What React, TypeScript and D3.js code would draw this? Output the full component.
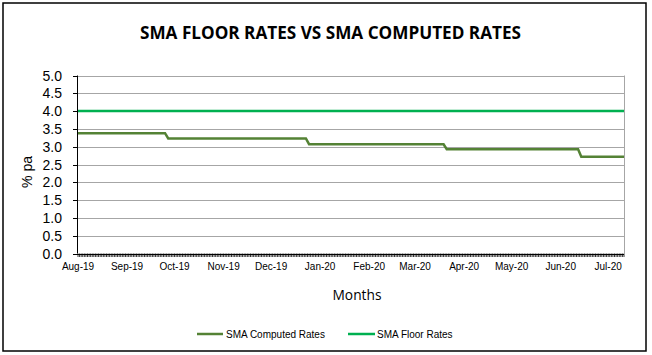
import React from "react";
import * as d3 from "d3";

const W = 652;
const H = 355;

const computedDates = [
  "2019-08-01", "2019-09-25", "2019-09-27", "2019-12-23", "2019-12-25",
  "2020-03-19", "2020-03-21", "2020-06-12", "2020-06-14", "2020-07-11",
];
const computedValues = [3.38, 3.38, 3.23, 3.23, 3.07, 3.07, 2.93, 2.93, 2.72, 2.72];
const floorDates = ["2019-08-01", "2020-07-11"];
const floorValues = [4.0, 4.0];
const yTicks = [0, 0.5, 1, 1.5, 2, 2.5, 3, 3.5, 4, 4.5, 5];
const monthLabels = [
  "Aug-19", "Sep-19", "Oct-19", "Nov-19", "Dec-19", "Jan-20",
  "Feb-20", "Mar-20", "Apr-20", "May-20", "Jun-20", "Jul-20",
];
const seriesNames = ["SMA Computed Rates", "SMA Floor Rates"];
const seriesColors = ["#548235", "#00B050"];

const parse = d3.timeParse("%Y-%m-%d");
const parseMonth = d3.timeParse("%b-%y");

export default function App() {
  const left = 78, right = 624, top = 75.5, bottom = 253.5;
  const x = d3.scaleTime()
    .domain([parse("2019-08-01")!, parse("2020-07-11")!])
    .range([left, right]);
  const y = d3.scaleLinear().domain([0, 5]).range([bottom, top]);

  const line = d3.line<[Date, number]>()
    .x((d) => x(d[0]))
    .y((d) => y(d[1]));

  const compData: [Date, number][] = computedDates.map((d, i) => [parse(d)!, computedValues[i]]);
  const floorData: [Date, number][] = floorDates.map((d, i) => [parse(d)!, floorValues[i]]);

  const days = d3.timeDay.range(x.domain()[0], d3.timeDay.offset(x.domain()[1], 1));

  const arial = "'Liberation Sans', Arial, sans-serif";
  const calibri = "'Open Sans', 'Liberation Sans', sans-serif";

  return (
    <svg width={W} height={H} style={{ position: "absolute", left: 0, top: 0 }}>
      <rect x={0} y={0} width={W} height={H} fill="#fff" />
      <rect x={3} y={3} width={643} height={348} fill="#fff" stroke="#000" strokeWidth={1.5} />
      <text x={330.5} y={39} textAnchor="middle" fontFamily={calibri} fontWeight="bold" fontSize={18}
        textLength={381} lengthAdjust="spacingAndGlyphs" fill="#000">
        SMA FLOOR RATES VS SMA COMPUTED RATES
      </text>
      {/* gridlines */}
      {yTicks.filter((t) => t > 0).map((t) => (
        <line key={"g" + t} x1={left} x2={right} y1={Math.round(y(t)) + 0.5} y2={Math.round(y(t)) + 0.5}
          stroke="#A6A6A6" strokeWidth={1} />
      ))}
      <line x1={right + 0.5} x2={right + 0.5} y1={top} y2={bottom} stroke="#A6A6A6" strokeWidth={1} />
      {/* y axis */}
      <line x1={left - 0.5} x2={left - 0.5} y1={top} y2={bottom} stroke="#000" strokeWidth={1} />
      {yTicks.map((t) => (
        <g key={"y" + t}>
          <line x1={left - 5} x2={left} y1={Math.round(y(t)) + 0.5} y2={Math.round(y(t)) + 0.5} stroke="#000" />
          <text x={62} y={y(t) + 5} textAnchor="end" fontFamily={arial} fontSize={14} fill="#000">
            {t.toFixed(1)}
          </text>
        </g>
      ))}
      {/* x axis */}
      <line x1={left - 5} x2={right} y1={Math.round(bottom) + 0.5} y2={Math.round(bottom) + 0.5} stroke="#000" />
      {days.map((d, i) => (
        <line key={"t" + i} x1={x(d)} x2={x(d)} y1={bottom} y2={bottom + 3.5} stroke="#000" strokeWidth={0.8} />
      ))}
      {monthLabels.map((m) => (
        <text key={m} x={x(parseMonth(m)!)} y={270} textAnchor="middle" fontFamily={arial} fontSize={10} fill="#000">
          {m}
        </text>
      ))}
      <text x={357} y={300} textAnchor="middle" fontFamily={calibri} fontSize={14} fill="#000"
        textLength={49} lengthAdjust="spacingAndGlyphs">Months</text>
      <text transform={`translate(32,172) rotate(-90)`} textAnchor="middle" fontFamily={arial} fontSize={14} fill="#000">
        % pa
      </text>
      {/* series */}
      <path d={line(floorData)!} fill="none" stroke={seriesColors[1]} strokeWidth={2.5} />
      <path d={line(compData)!} fill="none" stroke={seriesColors[0]} strokeWidth={2.5} />
      {/* legend */}
      <line x1={197} x2={223} y1={334} y2={334} stroke={seriesColors[0]} strokeWidth={2.5} />
      <text x={226} y={337.5} fontFamily={arial} fontSize={10} fill="#000">{seriesNames[0]}</text>
      <line x1={348} x2={375} y1={334} y2={334} stroke={seriesColors[1]} strokeWidth={2.5} />
      <text x={377} y={337.5} fontFamily={arial} fontSize={10} fill="#000">{seriesNames[1]}</text>
    </svg>
  );
}
